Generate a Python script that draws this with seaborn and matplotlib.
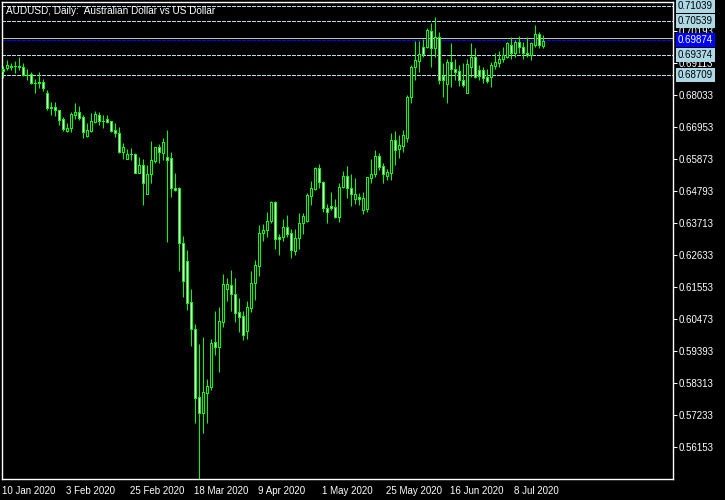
import matplotlib
matplotlib.use("Agg")
import matplotlib.pyplot as plt
import seaborn as sns
import pandas as pd

# AUDUSD daily bars, 10 Jan 2020 onwards
opens = [0.6891, 0.6894, 0.6898, 0.6901, 0.6901, 0.6898, 0.6871, 0.6874, 0.6844, 0.6844,
         0.6847, 0.6810, 0.6762, 0.6762, 0.6753, 0.6722, 0.6682, 0.6692, 0.6736, 0.6746,
         0.6729, 0.6665, 0.6682, 0.6712, 0.6736, 0.6716, 0.6722, 0.6716, 0.6685, 0.6675,
         0.6611, 0.6587, 0.6604, 0.6604, 0.6540, 0.6567, 0.6469, 0.6537, 0.6581, 0.6628,
         0.6608, 0.6594, 0.6591, 0.6489, 0.6489, 0.6304, 0.6243, 0.6105, 0.6014, 0.5784,
         0.5730, 0.5797, 0.5818, 0.5970, 0.5953, 0.6037, 0.6149, 0.6162, 0.6132, 0.6071,
         0.6058, 0.6007, 0.6084, 0.6169, 0.6226, 0.6338, 0.6348, 0.6378, 0.6442, 0.6324,
         0.6324, 0.6358, 0.6338, 0.6277, 0.6321, 0.6371, 0.6378, 0.6462, 0.6486, 0.6557,
         0.6510, 0.6422, 0.6429, 0.6425, 0.6392, 0.6493, 0.6530, 0.6489, 0.6452, 0.6459,
         0.6415, 0.6419, 0.6523, 0.6537, 0.6597, 0.6564, 0.6530, 0.6540, 0.6651, 0.6621,
         0.6631, 0.6658, 0.6797, 0.6898, 0.6918, 0.6965, 0.6965, 0.7019, 0.6962, 0.6999,
         0.6867, 0.6840, 0.6915, 0.6891, 0.6884, 0.6854, 0.6810, 0.6898, 0.6932, 0.6888,
         0.6888, 0.6864, 0.6864, 0.6901, 0.6911, 0.6925, 0.6932, 0.6972, 0.6945, 0.6982,
         0.6965, 0.6945, 0.6938, 0.6972, 0.7009, 0.6969]
highs = [0.6901, 0.6921, 0.6911, 0.6918, 0.6931, 0.6911, 0.6891, 0.6881, 0.6857, 0.6881,
         0.6857, 0.6820, 0.6780, 0.6780, 0.6753, 0.6729, 0.6709, 0.6746, 0.6776, 0.6766,
         0.6736, 0.6709, 0.6743, 0.6749, 0.6746, 0.6736, 0.6736, 0.6716, 0.6709, 0.6695,
         0.6641, 0.6621, 0.6624, 0.6608, 0.6594, 0.6587, 0.6567, 0.6648, 0.6628, 0.6638,
         0.6658, 0.6685, 0.6611, 0.6540, 0.6493, 0.6327, 0.6280, 0.6148, 0.6031, 0.5963,
         0.5986, 0.5845, 0.5980, 0.6074, 0.6088, 0.6199, 0.6186, 0.6213, 0.6186, 0.6118,
         0.6074, 0.6108, 0.6209, 0.6246, 0.6365, 0.6368, 0.6408, 0.6446, 0.6446, 0.6334,
         0.6385, 0.6398, 0.6351, 0.6351, 0.6405, 0.6405, 0.6473, 0.6513, 0.6560, 0.6570,
         0.6513, 0.6435, 0.6476, 0.6452, 0.6506, 0.6547, 0.6564, 0.6537, 0.6523, 0.6473,
         0.6476, 0.6527, 0.6587, 0.6618, 0.6608, 0.6574, 0.6554, 0.6675, 0.6682, 0.6668,
         0.6685, 0.6803, 0.6905, 0.6986, 0.6986, 0.6993, 0.7029, 0.7046, 0.7067, 0.7016,
         0.6911, 0.6925, 0.6979, 0.6925, 0.6905, 0.6911, 0.6925, 0.6979, 0.6962, 0.6905,
         0.6898, 0.6891, 0.6915, 0.6945, 0.6952, 0.6965, 0.6982, 0.6999, 0.6989, 0.7002,
         0.6982, 0.6999, 0.6982, 0.7040, 0.7016, 0.7006]
lows = [0.6861, 0.6888, 0.6888, 0.6877, 0.6888, 0.6867, 0.6854, 0.6840, 0.6810, 0.6827,
        0.6817, 0.6753, 0.6736, 0.6733, 0.6702, 0.6682, 0.6678, 0.6678, 0.6722, 0.6719,
        0.6658, 0.6662, 0.6678, 0.6709, 0.6702, 0.6692, 0.6709, 0.6678, 0.6662, 0.6608,
        0.6587, 0.6587, 0.6584, 0.6540, 0.6540, 0.6432, 0.6469, 0.6506, 0.6574, 0.6574,
        0.6584, 0.6307, 0.6459, 0.6479, 0.6209, 0.6122, 0.6078, 0.5956, 0.5696, 0.5507,
        0.5663, 0.5696, 0.5808, 0.5926, 0.5868, 0.6020, 0.6108, 0.6074, 0.6037, 0.6003,
        0.5976, 0.5980, 0.6071, 0.6111, 0.6193, 0.6311, 0.6324, 0.6371, 0.6284, 0.6263,
        0.6311, 0.6324, 0.6253, 0.6263, 0.6284, 0.6334, 0.6375, 0.6432, 0.6483, 0.6489,
        0.6408, 0.6371, 0.6415, 0.6388, 0.6375, 0.6489, 0.6456, 0.6429, 0.6435, 0.6432,
        0.6402, 0.6408, 0.6506, 0.6527, 0.6550, 0.6506, 0.6516, 0.6516, 0.6567, 0.6591,
        0.6611, 0.6645, 0.6776, 0.6854, 0.6881, 0.6932, 0.6962, 0.6898, 0.6932, 0.6840,
        0.6797, 0.6776, 0.6830, 0.6854, 0.6834, 0.6830, 0.6810, 0.6864, 0.6861, 0.6854,
        0.6844, 0.6844, 0.6830, 0.6891, 0.6898, 0.6915, 0.6928, 0.6925, 0.6932, 0.6945,
        0.6925, 0.6932, 0.6921, 0.6965, 0.6962, 0.6962]
closes = [0.6884, 0.6905, 0.6901, 0.6900, 0.6898, 0.6871, 0.6870, 0.6844, 0.6843, 0.6847,
          0.6827, 0.6759, 0.6761, 0.6753, 0.6719, 0.6689, 0.6692, 0.6739, 0.6746, 0.6726,
          0.6678, 0.6685, 0.6716, 0.6739, 0.6716, 0.6715, 0.6712, 0.6682, 0.6675, 0.6611,
          0.6628, 0.6604, 0.6603, 0.6540, 0.6567, 0.6506, 0.6537, 0.6584, 0.6628, 0.6611,
          0.6645, 0.6584, 0.6489, 0.6483, 0.6304, 0.6176, 0.6101, 0.6014, 0.5781, 0.5730,
          0.5801, 0.5821, 0.5966, 0.5953, 0.6041, 0.6165, 0.6165, 0.6132, 0.6068, 0.6054,
          0.5993, 0.6088, 0.6169, 0.6229, 0.6338, 0.6348, 0.6378, 0.6442, 0.6317, 0.6317,
          0.6358, 0.6334, 0.6280, 0.6321, 0.6371, 0.6395, 0.6466, 0.6489, 0.6557, 0.6510,
          0.6422, 0.6408, 0.6422, 0.6392, 0.6493, 0.6530, 0.6489, 0.6469, 0.6469, 0.6452,
          0.6456, 0.6527, 0.6537, 0.6597, 0.6560, 0.6537, 0.6543, 0.6651, 0.6618, 0.6635,
          0.6668, 0.6797, 0.6898, 0.6921, 0.6942, 0.6942, 0.7023, 0.6962, 0.6999, 0.6854,
          0.6854, 0.6915, 0.6891, 0.6881, 0.6854, 0.6837, 0.6908, 0.6932, 0.6864, 0.6867,
          0.6861, 0.6851, 0.6905, 0.6915, 0.6925, 0.6938, 0.6979, 0.6945, 0.6982, 0.6965,
          0.6945, 0.6938, 0.6979, 0.7009, 0.6972, 0.6987]

price_ticks = [0.70193, 0.69113, 0.68033, 0.66953, 0.65873, 0.64793, 0.63713,
               0.62633, 0.61553, 0.60473, 0.59393, 0.58313, 0.57233, 0.56153]
levels = [0.71039, 0.70539, 0.69374, 0.68709]
bid = 0.69874
ask = 0.69955
title = "AUDUSD, Daily:  Australian Dollar vs US Dollar"

dates = pd.bdate_range("2020-01-10", periods=len(closes))
df = pd.DataFrame({"open": opens, "high": highs, "low": lows, "close": closes})
df["idx"] = range(len(df))
df["bottom"] = df[["open", "close"]].min(axis=1)
df["height"] = (df["open"] - df["close"]).abs()
df["fill"] = ["white" if c < o else "black" for o, c in zip(df["open"], df["close"])]

sns.set_style("dark", rc={"axes.facecolor": "black", "figure.facecolor": "black",
                          "axes.edgecolor": "white", "text.color": "white",
                          "xtick.color": "white", "ytick.color": "white"})
plt.rcParams["font.family"] = ["Liberation Sans", "DejaVu Sans"]

W, H = 725, 500
PX = 72 / 100  # one pixel in points
fig = plt.figure(figsize=(7.25, 5), dpi=100)
ax = fig.add_axes([2 / W, (H - 479) / H, (673 - 2) / W, (479 - 2) / H])
ax.set_facecolor("black")

green = "#00ff00"
ax.vlines(df["idx"], df["low"], df["high"], colors=green, lw=PX, snap=True, zorder=2)
ax.bar(df["idx"], df["height"], bottom=df["bottom"], width=0.5,
       color=df["fill"], edgecolor=green, linewidth=PX,
       antialiased=False, zorder=3)

for lv in levels:
    ax.axhline(lv, color="#b4dcec", lw=PX, ls=(0, (4, 2)), antialiased=False, zorder=1)
ax.axhline(ask, color="#c0c0c0", lw=PX, antialiased=False, zorder=1)
ax.axhline(bid, color="#0000ff", lw=PX, ls=(0, (4, 2)), antialiased=False, zorder=1)

# 4 px per bar, candle centres on pixel centres
ax.set_xlim(-0.125, 167.625)
ax.set_ylim(0.55073, 0.71171)
ax.grid(False)
for s in ax.spines.values():
    s.set_color("white")
    s.set_linewidth(1.0)

ax.yaxis.tick_right()
ax.set_yticks(price_ticks)
ax.set_yticklabels([f"{t:.5f}" for t in price_ticks])
ax.tick_params(axis="y", direction="out", length=3, width=PX, pad=1,
               labelsize=7, colors="white")

xt = list(range(0, len(closes), 16))
ax.set_xticks(xt)
ax.set_xticklabels([f"{dates[i].day} {dates[i]:%b %Y}" for i in xt], ha="left")
ax.tick_params(axis="x", direction="out", length=4, width=PX, pad=1,
               labelsize=7, colors="white")
ax.set_xlabel("")
ax.set_ylabel("")

for lv in levels:
    ax.annotate(f"{lv:.5f}", xy=(1, lv), xycoords=("axes fraction", "data"),
                xytext=(5, 0), textcoords="offset pixels", va="center", ha="left",
                fontsize=7, color="black", annotation_clip=False, zorder=10,
                bbox=dict(boxstyle="square,pad=0.2", fc="#add8e6", ec="none"))
ax.annotate(f"{bid:.5f}", xy=(1, bid), xycoords=("axes fraction", "data"),
            xytext=(5, 0), textcoords="offset pixels", va="center", ha="left",
            fontsize=7, color="white", annotation_clip=False, zorder=10,
            bbox=dict(boxstyle="square,pad=0.2", fc="#0000ff", ec="none"))

fig.text(6 / W, 1 - 11 / H, title, color="white", fontsize=7.2, va="center", ha="left")

fig.savefig("out.png", dpi=100, facecolor="black")
